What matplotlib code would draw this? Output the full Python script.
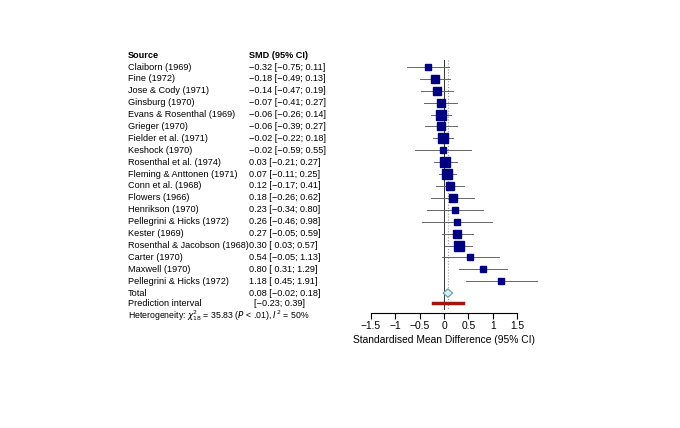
import matplotlib.pyplot as plt

studies = ["Claiborn (1969)", "Fine (1972)", "Jose & Cody (1971)", "Ginsburg (1970)",
           "Evans & Rosenthal (1969)", "Grieger (1970)", "Fielder et al. (1971)", "Keshock (1970)",
           "Rosenthal et al. (1974)", "Fleming & Anttonen (1971)", "Conn et al. (1968)",
           "Flowers (1966)", "Henrikson (1970)", "Pellegrini & Hicks (1972)", "Kester (1969)",
           "Rosenthal & Jacobson (1968)", "Carter (1970)", "Maxwell (1970)", "Pellegrini & Hicks (1972)"]
smd = [-0.32, -0.18, -0.14, -0.07, -0.06, -0.06, -0.02, -0.02, 0.03, 0.07, 0.12, 0.18, 0.23,
       0.26, 0.27, 0.30, 0.54, 0.80, 1.18]
lo = [-0.75, -0.49, -0.47, -0.41, -0.26, -0.39, -0.22, -0.59, -0.21, -0.11, -0.17, -0.26,
      -0.34, -0.46, -0.05, 0.03, -0.05, 0.31, 0.45]
hi = [0.11, 0.13, 0.19, 0.27, 0.14, 0.27, 0.18, 0.55, 0.27, 0.25, 0.41, 0.62, 0.80, 0.98,
      0.59, 0.57, 1.13, 1.29, 1.91]
sizes = [5, 6, 5.8, 5.5, 7, 6, 7, 4.2, 6.5, 7, 6.2, 5.5, 5, 4, 6.2, 6.8, 4.4, 4.8, 3.8]
total, total_lo, total_hi = 0.08, -0.02, 0.18
pred_lo, pred_hi = -0.23, 0.39

def fmt(v):
    return f"{v:.2f}".replace("-", "\u2212") if v < 0 else f"{v:.2f}"

def ci(m, a, b):
    sa = fmt(a) if a < 0 else " " + fmt(a)
    return f"{fmt(m)} [{sa}; {fmt(b)}]"

W, H = 680, 428
fig = plt.figure(figsize=(W / 100, H / 100), dpi=100)
fs = 6.6
font = "Liberation Sans"

# forest axes: pixel x = 444 + 48.7*x, row i at pixel y = 67 + 11.9*i
ax = fig.add_axes([322 / W, 1 - 320 / H, 244 / W, 265 / H])
ax.set_xlim(-2.505, 2.505)
ax.set_ylim(21.26, -1.008)
n = len(studies)
rows = list(range(n))
ax.plot([0, 0], [-0.6, n + 1.3], color="#333333", lw=0.7, zorder=1)
ax.plot([total, total], [-0.6, n + 1.3], color="#999999", lw=0.8, ls=":", zorder=1)
for i in rows:
    ax.plot([lo[i], hi[i]], [i, i], color="#666666", lw=0.7, zorder=2)
    ax.plot(smd[i], i, marker="s", ms=sizes[i], color="#000080", zorder=3)
ty = n
ax.fill([total_lo, total, total_hi, total], [ty, ty - 0.35, ty, ty + 0.35],
        facecolor="#d8f0f4", edgecolor="#5f9ea0", lw=0.8, zorder=3)
ax.plot([pred_lo, pred_hi], [n + 0.85, n + 0.85], color="#a31515", lw=2.5, zorder=3)

for s in ["top", "right", "left"]:
    ax.spines[s].set_visible(False)
ax.spines["bottom"].set_position(("data", 20.67))
ax.spines["bottom"].set_bounds(-1.5, 1.5)
ax.spines["bottom"].set_linewidth(0.8)
ticks = [-1.5, -1, -0.5, 0, 0.5, 1, 1.5]
ax.set_xticks(ticks)
ax.set_xticklabels([("\u2212" + f"{abs(t):g}") if t < 0 else f"{t:g}" for t in ticks],
                   fontsize=fs + 0.8, family=font)
ax.tick_params(axis="x", length=4, width=0.8, pad=2)
ax.set_yticks([])
ax.patch.set_alpha(0)
fig.text(444 / W, 1 - 340 / H, "Standardised Mean Difference (95% CI)", ha="center",
         va="center", fontsize=fs + 0.8, family=font)

# text columns
def ypx(p):
    return 1 - p / H

fig.text(128 / W, ypx(55), "Source", fontsize=fs, weight="bold", va="center", family=font)
fig.text(249 / W, ypx(55), "SMD (95% CI)", fontsize=fs, weight="bold", va="center", family=font)
for i in rows:
    y = ypx(67 + 11.9 * i)
    fig.text(128 / W, y, studies[i], fontsize=fs, va="center", family=font)
    fig.text(249 / W, y, ci(smd[i], lo[i], hi[i]), fontsize=fs, va="center", family=font)
fig.text(128 / W, ypx(293), "Total", fontsize=fs, va="center", family=font)
fig.text(249 / W, ypx(293), ci(total, total_lo, total_hi), fontsize=fs, va="center", family=font)
fig.text(128 / W, ypx(304), "Prediction interval", fontsize=fs, va="center", family=font)
fig.text(249 / W, ypx(304), f"  [{fmt(pred_lo)}; {fmt(pred_hi)}]", fontsize=fs, va="center",
         family=font)
fig.text(128 / W, ypx(316), r"Heterogeneity: $\chi^2_{18}$ = 35.83 ($P$ < .01), $I^2$ = 50%",
         fontsize=fs - 0.3, va="center", family=font)

fig.savefig("out.png", dpi=100)
